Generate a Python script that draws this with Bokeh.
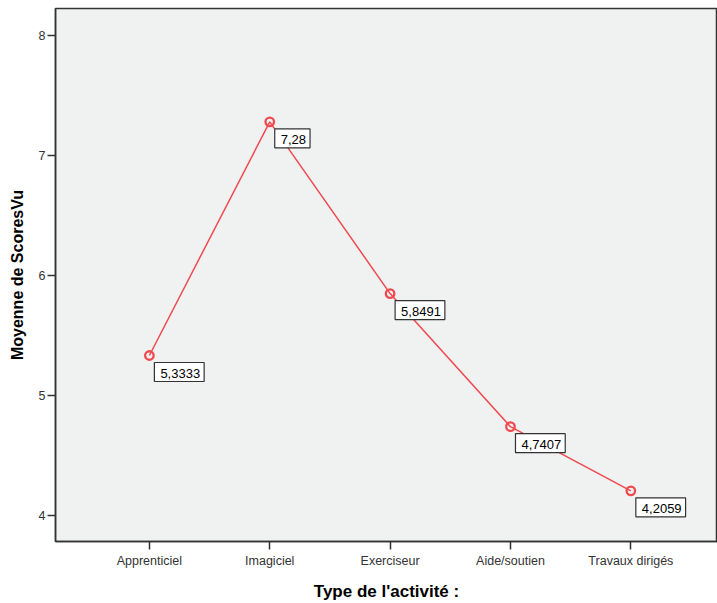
from bokeh.plotting import figure
from bokeh.models import ColumnDataSource, Range1d, FixedTicker, Label
from bokeh.embed import file_html
from bokeh.resources import INLINE

categories = ["Apprenticiel", "Imagiciel", "Exerciseur", "Aide/soutien", "Travaux dirigés"]
means = [5.3333, 7.28, 5.8491, 4.7407, 4.2059]
value_labels = ["5,3333", "7,28", "5,8491", "4,7407", "4,2059"]
y_ticks = [4, 5, 6, 7, 8]

xs = list(range(len(categories)))
src = ColumnDataSource(dict(x=xs, y=means, lab=value_labels))

p = figure(width=717, height=603, output_backend="svg", toolbar_location=None,
           x_range=Range1d(-0.78, 4.72), y_range=Range1d(3.784, 8.224),
           min_border_left=55, min_border_right=0, min_border_top=8, min_border_bottom=0)
p.background_fill_color = "#F0F1F1"
p.border_fill_color = "white"
p.outline_line_color = "#333333"
p.outline_line_width = 1.5
p.grid.visible = False

red = "#F04A50"
p.line("x", "y", source=src, line_color=red, line_width=1.5)
p.scatter("x", "y", source=src, marker="circle", size=8.5, fill_color=None,
          line_color=red, line_width=2.3)

for xv, yv, lab in zip(xs, means, value_labels):
    p.add_layout(Label(x=xv, y=yv, text=lab, x_offset=5, y_offset=-7,
                       text_baseline="top", text_align="left", text_font_size="13px",
                       text_font="Liberation Sans", text_color="black",
                       background_fill_color="white", border_line_color="#333333",
                       border_line_width=1.2, padding=(6, 4, 6, 4)))

p.xaxis.ticker = FixedTicker(ticks=xs)
p.xaxis.major_label_overrides = {i: c for i, c in enumerate(categories)}
p.yaxis.ticker = FixedTicker(ticks=y_ticks)
for ax in (p.xaxis, p.yaxis):
    ax.axis_line_color = "#333333"
    ax.axis_line_width = 1.5
    ax.major_tick_line_color = "#333333"
    ax.major_tick_line_width = 1.5
    ax.major_tick_out = 8
    ax.major_tick_in = 0
    ax.minor_tick_line_color = None
    ax.major_label_text_font = "Liberation Sans"
    ax.major_label_text_font_size = "12.5px"
    ax.major_label_text_color = "#333333"
    ax.axis_label_text_font = "Liberation Sans"
    ax.axis_label_text_font_style = "bold"
    ax.axis_label_text_color = "black"
p.xaxis.axis_label_text_font_size = "17px"
p.yaxis.axis_label_text_font_size = "16px"
p.xaxis.axis_label = "Type de l'activité :"
p.yaxis.axis_label = "Moyenne de ScoresVu"
p.xaxis.major_label_standoff = 4
p.yaxis.major_label_standoff = 2
p.xaxis.axis_label_standoff = 11
p.yaxis.axis_label_standoff = 10

open("out.html", "w").write(file_html(p, INLINE))
